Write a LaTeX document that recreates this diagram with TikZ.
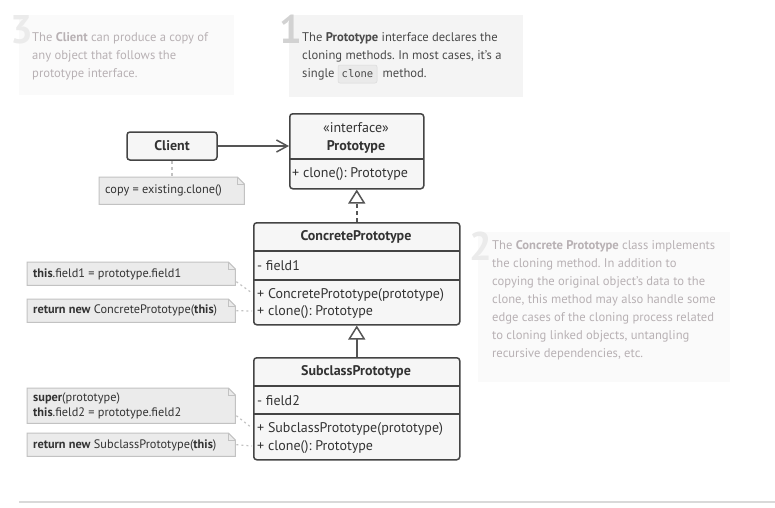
\documentclass[tikz,border=0pt]{standalone}
\usepackage{fontspec}
\setmainfont{PT Sans}
\setmonofont{DejaVu Sans Mono}
\usetikzlibrary{calc,arrows.meta}
\frenchspacing
\definecolor{boxline}{HTML}{444444}
\definecolor{boxfill}{HTML}{F6F6F6}
\definecolor{notefill}{HTML}{EBEBEB}
\definecolor{noteline}{HTML}{C2C2C2}
\definecolor{txt}{HTML}{333333}
\definecolor{faded}{HTML}{B8B1B4}
\definecolor{activetxt}{HTML}{4A4A4A}
\definecolor{cbgact}{HTML}{F4F4F4}
\definecolor{cbgfade}{HTML}{FAFAFA}
\definecolor{digfade}{HTML}{EBEBEB}
\definecolor{digact}{HTML}{D2D2D2}
\definecolor{codebg}{HTML}{EAEAEA}
\definecolor{arrowcol}{HTML}{555555}
\tikzset{
  classbox/.style={draw=boxline, fill=boxfill, line width=1.5pt, rounded corners=3pt, inner sep=0pt},
  ctitle/.style={font=\fontsize{14}{16}\selectfont\bfseries, text=txt, inner sep=0pt},
  cline/.style={font=\fontsize{14}{16}\selectfont, text=txt, inner sep=0pt, anchor=west},
  divider/.style={draw=boxline, line width=1.5pt},
  notebg/.style={inner sep=0pt},
  notepath/.style={fill=notefill, draw=noteline, line width=1pt},
  notetext/.style={font=\fontsize{12.3}{15}\selectfont, text=txt, inner sep=0pt, anchor=west, align=left},
  dotline/.style={draw=noteline, line width=1.2pt, dash pattern=on 2pt off 3pt},
  ctext/.style={font=\fontsize{12.6}{18}\selectfont, inner sep=0pt, anchor=north west, align=left},
  digit/.style={font=\fontsize{40}{40}\selectfont\bfseries, inner sep=0pt, anchor=base west},
}
\newcommand{\mknote}[5]{%
  \node[notebg, anchor=north west, minimum width=#4, minimum height=#5] (#1) at (#2,#3) {};
  \path[notepath] (#1.north west) -- ($(#1.north east)+(-7,0)$) -- ($(#1.north east)+(0,7)$) -- (#1.south east) -- (#1.south west) -- cycle;
  \draw[noteline, line width=1pt] ($(#1.north east)+(-7,0)$) |- ($(#1.north east)+(0,7)$);
}
\begin{document}
\begin{tikzpicture}[x=1pt,y=-1pt]
\useasboundingbox (0,0) rectangle (775,507);

% ---- comment 3
\fill[cbgfade] (19,15) rectangle (234,95);
\node[digit, text=digfade] (d3) at (10,43) {3};
\node[ctext, text=faded] (c3) at (32,32.5) {The \textbf{Client} can produce a copy of\\any object that follows the\\prototype interface.};

% ---- comment 1
\fill[cbgact] (289,15) rectangle (523,97);
\node[digit, text=digact] (d1) at (279,43) {1};
\fill[codebg, draw=noteline!60, line width=0.5pt, rounded corners=2pt] (338,65) rectangle (377,83);
\node[ctext, text=activetxt] (c1) at (302,32.5) {The \textbf{Prototype} interface declares the\\cloning methods. In most cases, it's a\\single\hspace*{48pt}method.};
\node[font=\fontsize{10.5}{13}\selectfont\ttfamily, text=activetxt, inner sep=0pt] (code) at (357.5,74) {clone};

% ---- comment 2
\fill[cbgfade] (478,232) rectangle (730,382);
\node[digit, text=digfade] (d2) at (469,260) {2};
\node[ctext, text=faded] (c2) at (492,240.5) {The \textbf{Concrete Prototype} class implements\\the cloning method. In addition to\\copying the original object's data to the\\clone, this method may also handle some\\edge cases of the cloning process related\\to cloning linked objects, untangling\\recursive dependencies, etc.};

% ---- Client
\node[classbox, minimum width=90, minimum height=28] (client) at (172,146) {};
\node[ctitle] (clientT) at (client) {Client};
\mknote{ncopy}{99}{177}{145}{27}
\node[notetext] (ncopyT) at (105,190.5) {copy = existing.clone()};
\draw[dotline, dash pattern=on 3pt off 3pt] (client.south) -- (client.south |- ncopy.north);

% ---- Prototype
\node[classbox, anchor=north west, minimum width=134, minimum height=75] (proto) at (289,113) {};
\draw[divider] (289,159) -- (423,159);
\node[font=\fontsize{14}{16}\selectfont, text=txt, inner sep=0pt] (protoS) at (356,128) {«interface»};
\node[ctitle] (protoT) at (356,147) {Prototype};
\node[cline] (protoM) at (292,174) {+ clone(): Prototype};

\draw[arrowcol, line width=1.5pt, -{Straight Barb[length=11pt,width=12pt,line width=1.5pt]}] (client.east) -- (proto.west |- client.east);

% ---- ConcretePrototype
\node[classbox, anchor=north west, minimum width=206, minimum height=102] (conc) at (253,222) {};
\draw[divider] (253,251) -- (459,251);
\draw[divider] (253,280) -- (459,280);
\node[ctitle] (concT) at (356,237) {ConcretePrototype};
\node[cline] (concF) at (257,266) {- field1};
\node[cline] (concM1) at (257,295) {+ ConcretePrototype(prototype)};
\node[cline] (concM2) at (257,312) {+ clone(): Prototype};

\draw[arrowcol, line width=1.5pt, dash pattern=on 4pt off 3pt, -{Triangle[open, fill=white, length=14pt, width=17pt, line width=1.5pt]}] (conc.north) -- (proto.south);

\mknote{nA}{27}{262}{208}{23}
\node[notetext] (nAT) at (33,274) {\textbf{this}.field1 = prototype.field1};
\mknote{nB}{27}{299}{208}{23}
\node[notetext] (nBT) at (33,310.5) {\textbf{return new} ConcretePrototype(\textbf{this})};
\coordinate (pA) at (252,293);
\coordinate (pB) at (252,311);
\draw[dotline] ($(nA.east)+(1,8)$) -- (pA);
\draw[dotline] ($(nB.east)+(1,0)$) -- (pB);

% ---- SubclassPrototype
\node[classbox, anchor=north west, minimum width=206, minimum height=102] (sub) at (253,357) {};
\draw[divider] (253,386) -- (459,386);
\draw[divider] (253,414) -- (459,414);
\node[ctitle] (subT) at (356,372) {SubclassPrototype};
\node[cline] (subF) at (257,401) {- field2};
\node[cline] (subM1) at (257,429) {+ SubclassPrototype(prototype)};
\node[cline] (subM2) at (257,447) {+ clone(): Prototype};

\draw[arrowcol, line width=1.5pt, -{Triangle[open, fill=white, length=14pt, width=17pt, line width=1.5pt]}] (sub.north) -- (conc.south);

\mknote{nC}{27}{388}{208}{35}
\node[notetext] (nCT) at (33,406) {\textbf{super}(prototype)\\\textbf{this}.field2 = prototype.field2};
\mknote{nD}{27}{433}{208}{23}
\node[notetext] (nDT) at (33,445) {\textbf{return new} SubclassPrototype(\textbf{this})};
\coordinate (pC) at (252,428);
\coordinate (pD) at (252,446);
\draw[dotline] ($(nC.east)+(1,10)$) -- (pC);
\draw[dotline] ($(nD.east)+(1,0)$) -- (pD);

% ---- bottom rule
\draw[draw=black!15, line width=1.2pt] (19,502) -- (775,502);
\end{tikzpicture}
\end{document}
